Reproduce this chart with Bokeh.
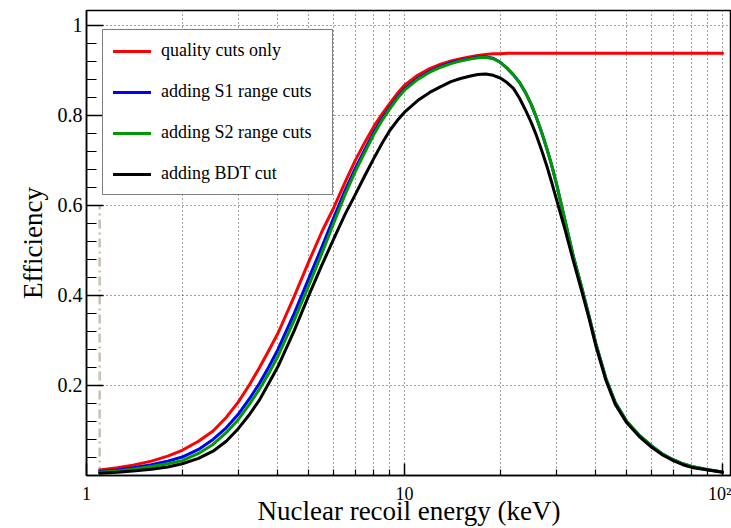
from bokeh.plotting import figure
from bokeh.models import (Range1d, FixedTicker, CustomJSTickFormatter, Legend,
                          LegendItem)
from bokeh.embed import file_html
from bokeh.resources import INLINE
import json

# Nuclear recoil energy grid (keV)
energy_keV = [1.1, 1.25, 1.4, 1.6, 1.8,
              2.0, 2.25, 2.5, 2.75,
              3.0, 3.25, 3.5, 3.75,
              4.0, 4.5, 5.0, 5.5, 6.0, 6.5, 7.0, 7.5, 8.0, 8.5, 9.0, 9.5,
              10, 11, 12, 13, 14, 15, 16, 17, 18, 19, 20,
              21, 22, 23, 24, 25, 26, 27, 28, 29, 30,
              32, 34, 36, 38, 40,
              43, 46, 50,
              55, 60, 65, 70, 75, 80,
              90, 100]

# Efficiency after each stage of cuts
eff_quality = [0.012, 0.017, 0.023, 0.032, 0.043,
               0.056, 0.076, 0.099, 0.129,
               0.163, 0.201, 0.240, 0.279,
               0.316, 0.398, 0.475, 0.542, 0.596, 0.651, 0.700, 0.740, 0.775, 0.803, 0.827, 0.849,
               0.867, 0.889, 0.904, 0.914, 0.921, 0.926, 0.930, 0.933, 0.935, 0.937, 0.937,
               0.938, 0.938, 0.938, 0.938, 0.938, 0.938, 0.938, 0.938, 0.938, 0.938,
               0.938, 0.938, 0.938, 0.938, 0.938,
               0.938, 0.938, 0.938,
               0.938, 0.938, 0.938, 0.938, 0.938, 0.938,
               0.938, 0.938]
eff_s1 = [0.009, 0.012, 0.017, 0.024, 0.032,
          0.041, 0.058, 0.080, 0.106,
          0.136, 0.170, 0.205, 0.242,
          0.280, 0.360, 0.438, 0.508, 0.574, 0.633, 0.682, 0.724, 0.762, 0.793, 0.818, 0.840,
          0.859, 0.882, 0.898, 0.909, 0.917, 0.922, 0.926, 0.929, 0.930, 0.927, 0.918,
          0.905, 0.890, 0.873, 0.851, 0.825, 0.795, 0.762, 0.727, 0.690, 0.650,
          0.565, 0.485, 0.420, 0.355, 0.292,
          0.215, 0.162, 0.120,
          0.088, 0.065, 0.047, 0.035, 0.026, 0.020,
          0.013, 0.008]
eff_s2 = [0.007, 0.010, 0.014, 0.020, 0.026,
          0.033, 0.049, 0.069, 0.095,
          0.124, 0.158, 0.192, 0.228,
          0.265, 0.345, 0.422, 0.494, 0.562, 0.624, 0.675, 0.718, 0.757, 0.789, 0.815, 0.838,
          0.856, 0.880, 0.896, 0.907, 0.915, 0.921, 0.925, 0.928, 0.929, 0.926, 0.918,
          0.905, 0.890, 0.873, 0.851, 0.825, 0.795, 0.762, 0.727, 0.690, 0.650,
          0.565, 0.485, 0.420, 0.355, 0.292,
          0.215, 0.162, 0.120,
          0.088, 0.065, 0.047, 0.035, 0.026, 0.020,
          0.013, 0.008]
eff_bdt = [0.005, 0.007, 0.010, 0.014, 0.019,
           0.026, 0.038, 0.054, 0.076,
           0.104, 0.135, 0.168, 0.206,
           0.242, 0.322, 0.400, 0.468, 0.527, 0.580, 0.624, 0.666, 0.704, 0.738, 0.767, 0.789,
           0.807, 0.833, 0.851, 0.864, 0.875, 0.882, 0.887, 0.891, 0.892, 0.889, 0.883,
           0.873, 0.860, 0.838, 0.812, 0.785, 0.755, 0.722, 0.688, 0.652, 0.615,
           0.545, 0.475, 0.412, 0.350, 0.287,
           0.211, 0.158, 0.117,
           0.085, 0.062, 0.045, 0.033, 0.024, 0.018,
           0.012, 0.007]

series_labels = ["quality cuts only", "adding S1 range cuts",
                 "adding S2 range cuts", "adding BDT cut"]
series_colors = ["#ff0000", "#0000ff", "#009a00", "#000000"]

# Analysis threshold marker
threshold_keV = [1.1]
threshold_top = [0.6]

# Tick positions and labels
x_tick_values = [1, 10, 100]
x_tick_labels = ["1", "10", "10\u00b2"]
x_minor_ticks = [2, 3, 4, 5, 6, 7, 8, 9, 20, 30, 40, 50, 60, 70, 80, 90]
y_tick_values = [0.2, 0.4, 0.6, 0.8, 1.0]
y_tick_labels = ["0.2", "0.4", "0.6", "0.8", "1"]
y_minor_ticks = [round(0.04 * i, 2) for i in range(0, 26)]

SERIF = "Liberation Serif"

p = figure(width=731, height=528, x_axis_type="log",
           x_range=Range1d(1, 106.7), y_range=Range1d(0, 1.033),
           output_backend="svg", toolbar_location=None,
           min_border_left=86, min_border_right=0,
           min_border_top=10, min_border_bottom=53)
p.outline_line_color = "black"
p.outline_line_width = 1.5
p.background_fill_color = "white"
p.border_fill_color = "white"


def lookup_formatter(values, labels):
    table = {format(v, "g"): lab for v, lab in zip(values, labels)}
    return CustomJSTickFormatter(
        code="const m = %s; const k = String(tick); return (k in m) ? m[k] : '';"
        % json.dumps(table))


p.xaxis.ticker = FixedTicker(ticks=x_tick_values, minor_ticks=x_minor_ticks)
p.xaxis.formatter = lookup_formatter(x_tick_values, x_tick_labels)
p.yaxis.ticker = FixedTicker(ticks=y_tick_values, minor_ticks=y_minor_ticks)
p.yaxis.formatter = lookup_formatter(y_tick_values, y_tick_labels)

for ax in (p.xaxis, p.yaxis):
    ax.axis_line_color = "black"
    ax.axis_line_width = 1.5
    ax.major_tick_line_color = "black"
    ax.minor_tick_line_color = "black"
    ax.major_tick_line_width = 1.5
    ax.minor_tick_line_width = 1.2
    ax.major_tick_out = 0
    ax.minor_tick_out = 0
    ax.major_label_text_font = SERIF
    ax.major_label_text_color = "black"
    ax.axis_label_text_font = SERIF
    ax.axis_label_text_font_style = "normal"
    ax.axis_label_text_color = "black"
    ax.axis_label_text_font_size = "27px"

p.xaxis.major_tick_in = 12
p.xaxis.minor_tick_in = 6
p.xaxis.major_label_text_font_size = "18px"
p.xaxis.major_label_standoff = 8
p.xaxis.axis_label = "Nuclear recoil energy (keV)"
p.xaxis.axis_label_standoff = -11

p.yaxis.major_tick_in = 17
p.yaxis.minor_tick_in = 10
p.yaxis.major_label_text_font_size = "20px"
p.yaxis.major_label_standoff = 4
p.yaxis.axis_label = "Efficiency"
p.yaxis.axis_label_standoff = 7

# dotted grid, including the log minor divisions
p.xgrid.grid_line_color = "black"
p.xgrid.grid_line_dash = "1 3"
p.xgrid.grid_line_alpha = 0.75
p.xgrid.minor_grid_line_color = "black"
p.xgrid.minor_grid_line_dash = "1 3"
p.xgrid.minor_grid_line_alpha = 0.75
p.ygrid.grid_line_color = "black"
p.ygrid.grid_line_dash = "1 3"
p.ygrid.grid_line_alpha = 0.75
p.ygrid.minor_grid_line_color = None

# threshold marker
p.segment(x0=threshold_keV, y0=[0] * len(threshold_keV),
          x1=threshold_keV, y1=threshold_top,
          line_color="#c9c0b7", line_width=2.5, line_dash="9 4 2 4")

renderers = []
for eff, color in zip([eff_quality, eff_s1, eff_s2, eff_bdt], series_colors):
    r = p.line(energy_keV, eff, line_color=color, line_width=3,
               line_join="round", line_cap="round")
    renderers.append(r)

legend = Legend(
    items=[LegendItem(label=lab, renderers=[r])
           for lab, r in zip(series_labels, renderers)],
    location=(16, 280), orientation="vertical",
    border_line_color="black", border_line_width=1.2,
    background_fill_color="white", background_fill_alpha=1.0,
    padding=10, spacing=20, margin=0,
    glyph_width=38, glyph_height=20, label_height=20,
    label_width=161, label_standoff=10,
    label_text_font=SERIF, label_text_font_size="18px",
    label_text_color="black")
p.add_layout(legend)

open("out.html", "w").write(file_html(p, INLINE))
